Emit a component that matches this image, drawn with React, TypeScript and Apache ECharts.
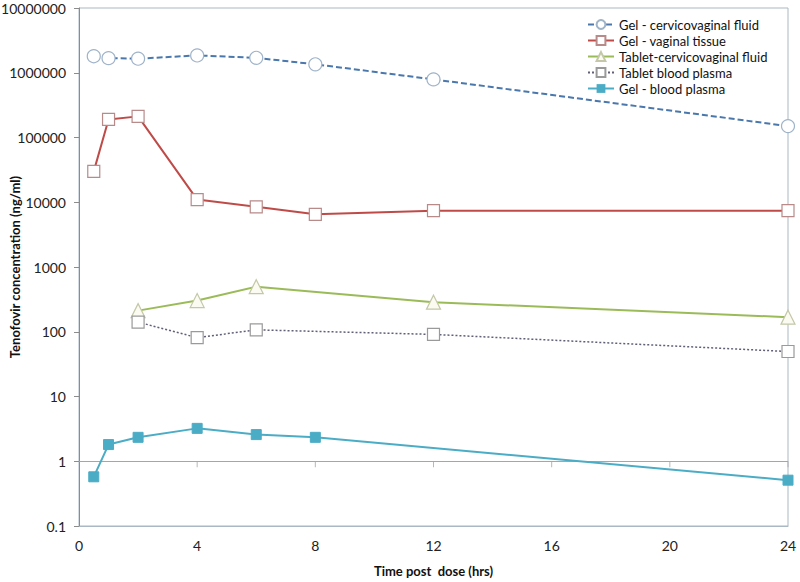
import React, { useEffect, useRef } from "react";
import * as echarts from "echarts";

const FONT = "Lato, 'Open Sans', sans-serif";

const gelTimes = [0.5, 1, 2, 4, 6, 8, 12, 24];
const gelCvf = [1800000, 1680000, 1650000, 1850000, 1700000, 1350000, 790000, 150000];
const gelTissue = [30000, 190000, 212000, 11000, 8500, 6500, 7400, 7400];
const tabletTimes = [2, 4, 6, 12, 24];
const tabletCvf = [212, 303, 497, 286, 168];
const tabletPlasma = [141, 81, 107, 91, 49.5];
const gelPlasmaTimes = [0.5, 1, 2, 4, 6, 8, 24];
const gelPlasma = [0.575, 1.81, 2.34, 3.22, 2.58, 2.34, 0.51];
const xTicks = [4, 8, 12, 16, 20, 24];
const crossValue = 1;

const names = [
  "Gel - cervicovaginal fluid",
  "Gel - vaginal tissue",
  "Tablet-cervicovaginal fluid",
  "Tablet blood plasma",
  "Gel - blood plasma",
];

const zip = (xs: number[], ys: number[]) => xs.map((x, i) => [x, ys[i]]);

export default function App() {
  const ref = useRef<HTMLDivElement>(null);
  useEffect(() => {
    if (!ref.current) return;
    const chart = echarts.init(ref.current, undefined, { renderer: "svg" });
    chart.setOption({
      animation: false,
      backgroundColor: "#fff",
      textStyle: { fontFamily: FONT },
      grid: {
        left: 79,
        right: 12,
        top: 8,
        bottom: 56,
        containLabel: false,
        outerBoundsMode: "none",
        show: true,
        borderColor: "#aab7c4",
        borderWidth: 1,
      },
      legend: {
        orient: "vertical",
        left: 582,
        top: 13,
        itemWidth: 26,
        itemHeight: 11,
        itemGap: 3,
        data: names,
        textStyle: { fontFamily: FONT, fontSize: 13, color: "#111" },
      },
      xAxis: {
        type: "value",
        min: 0,
        max: 24,
        interval: 4,
        name: "Time post  dose (hrs)",
        nameLocation: "middle",
        nameGap: 38,
        nameMoveOverlap: false,
        nameTextStyle: { fontFamily: FONT, fontSize: 13, fontWeight: "bold", color: "#111" },
        axisLine: { show: true, onZero: false, lineStyle: { color: "#aab7c4" } },
        axisTick: { show: false },
        axisLabel: { fontFamily: FONT, fontSize: 14, color: "#222", margin: 12 },
        splitLine: { show: false },
      },
      yAxis: {
        type: "log",
        logBase: 10,
        min: 0.1,
        max: 10000000,
        name: "Tenofovir concentration (ng/ml)",
        nameLocation: "middle",
        nameGap: 58,
        nameMoveOverlap: false,
        nameTextStyle: { fontFamily: FONT, fontSize: 13, fontWeight: "bold", color: "#111" },
        axisLine: { show: true, lineStyle: { color: "#8c8c8c" } },
        axisTick: { show: true, length: 5, lineStyle: { color: "#8c8c8c" } },
        axisLabel: {
          fontFamily: FONT,
          fontSize: 14,
          color: "#222",
          margin: 13,
          formatter: (v: number) => String(Number(v.toPrecision(6))),
        },
        splitLine: { show: false },
      },
      series: [
        {
          name: names[0],
          type: "line",
          data: zip(gelTimes, gelCvf),
          symbol: "circle",
          symbolSize: 13,
          lineStyle: { color: "#4a78ad", width: 2, type: [6, 3] },
          itemStyle: { color: "#fff", borderColor: "#9fb3c9", borderWidth: 1.2 },
          z: 5,
        },
        {
          name: names[1],
          type: "line",
          data: zip(gelTimes, gelTissue),
          symbol: "rect",
          symbolSize: 12,
          lineStyle: { color: "#be4b48", width: 2 },
          itemStyle: { color: "#fff", borderColor: "#b88a8a", borderWidth: 1.2 },
          z: 5,
        },
        {
          name: names[2],
          type: "line",
          data: zip(tabletTimes, tabletCvf),
          symbol: "triangle",
          symbolSize: 14,
          lineStyle: { color: "#9bbb59", width: 2 },
          itemStyle: { color: "#fbfbf2", borderColor: "#c4c8a8", borderWidth: 1.2 },
          z: 5,
        },
        {
          name: names[3],
          type: "line",
          data: zip(tabletTimes, tabletPlasma),
          symbol: "rect",
          symbolSize: 12,
          lineStyle: { color: "#5f6078", width: 1.5, type: [2, 2] },
          itemStyle: { color: "#fff", borderColor: "#9a9a9a", borderWidth: 1.2 },
          z: 5,
        },
        {
          name: names[4],
          type: "line",
          data: zip(gelPlasmaTimes, gelPlasma),
          symbol: "rect",
          symbolSize: 10,
          lineStyle: { color: "#4bacc6", width: 2 },
          itemStyle: { color: "#4bacc6", borderColor: "#4bacc6" },
          z: 5,
          markLine: {
            silent: true,
            symbol: "none",
            label: { show: false },
            lineStyle: { color: "#a6a6a6", width: 1, type: "solid" },
            data: [{ yAxis: crossValue }],
            z: 1,
          },
        },
        {
          name: "crossTicks",
          type: "scatter",
          data: xTicks.map((x) => [x, crossValue]),
          symbol: "rect",
          symbolSize: [1, 6],
          symbolOffset: [0, 3],
          itemStyle: { color: "#a6a6a6" },
          silent: true,
          z: 1,
        },
      ],
    });
    return () => chart.dispose();
  }, []);
  return (
    <div
      ref={ref}
      style={{ position: "fixed", left: 0, top: 0, width: 800, height: 582 }}
    />
  );
}
